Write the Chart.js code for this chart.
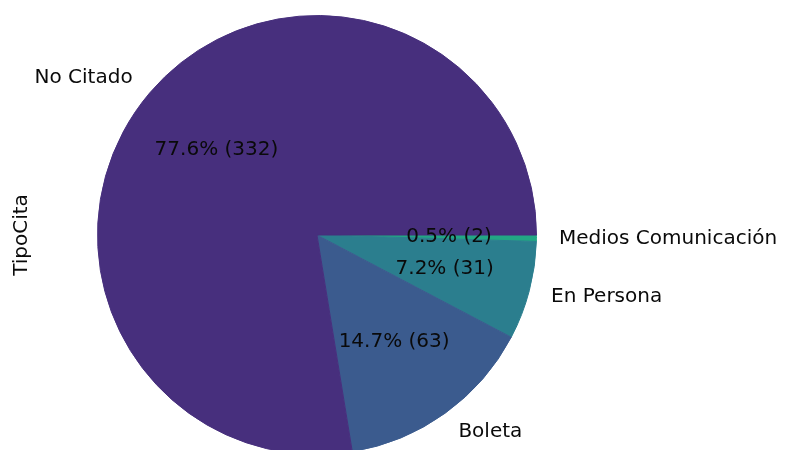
<!DOCTYPE html>
<html>
<head>
<meta charset="utf-8">
<script src="https://cdn.jsdelivr.net/npm/chart.js@4"></script>
<style>
  html, body { margin: 0; padding: 0; background: #fff; overflow: hidden; }
  #wrap { width: 785px; height: 470px; }
</style>
</head>
<body>
<div id="wrap"><canvas id="pie" width="785" height="470"></canvas></div>
<script>
// Slices in matplotlib order (counter-clockwise from 3 o'clock)
const categories = ['No Citado', 'Boleta', 'En Persona', 'Medios Comunicación'];
const counts = [332, 63, 31, 2];
const colors = ['#472f7d', '#3b5b8e', '#2b7e8e', '#22a784'];
const axisLabel = 'TipoCita';

// Chart.js draws clockwise, so reverse to mimic counter-clockwise layout
const labelsCW = categories.slice().reverse();
const countsCW = counts.slice().reverse();
const colorsCW = colors.slice().reverse();

const FONT = '20px "DejaVu Sans"';

/* ── slice labels like matplotlib autopct / labeldistance ───────────────── */
const pieLabels = {
  id: 'pieLabels',
  afterDatasetsDraw(chart) {
    const { ctx } = chart;
    const meta = chart.getDatasetMeta(0);
    const total = countsCW.reduce((a, b) => a + b, 0);
    ctx.save();
    ctx.font = FONT;
    ctx.fillStyle = '#0a0a0a';
    ctx.textBaseline = 'middle';
    meta.data.forEach((arc, i) => {
      const mid = (arc.startAngle + arc.endAngle) / 2;
      const r = 220;
      const cx = arc.x, cy = arc.y;
      // outer category label
      const lx = cx + Math.cos(mid) * r * 1.1;
      const ly = cy + Math.sin(mid) * r * 1.1;
      ctx.textAlign = Math.cos(mid) >= 0 ? 'left' : 'right';
      ctx.fillText(labelsCW[i], lx, ly);
      // percentage label
      const px = cx + Math.cos(mid) * r * 0.6;
      const py = cy + Math.sin(mid) * r * 0.6;
      const pct = (countsCW[i] / total * 100).toFixed(1);
      ctx.textAlign = 'center';
      ctx.fillText(`${pct}% (${countsCW[i]})`, px, py);
    });
    // y axis label
    ctx.translate(22, 235);
    ctx.rotate(-Math.PI / 2);
    ctx.textAlign = 'center';
    ctx.fillText(axisLabel, 0, 0);
    ctx.restore();
  }
};

new Chart(document.getElementById('pie'), {
  type: 'pie',
  data: {
    labels: labelsCW,
    datasets: [{ data: countsCW, backgroundColor: colorsCW, borderColor: colorsCW, borderWidth: 1, hoverOffset: 0 }]
  },
  options: {
    responsive: false,
    animation: false,
    rotation: 90,
    layout: { padding: { top: 15, bottom: 15, left: 97, right: 248 } },
    plugins: { legend: { display: false }, tooltip: { enabled: false } }
  },
  plugins: [pieLabels]
});
</script>
</body>
</html>
